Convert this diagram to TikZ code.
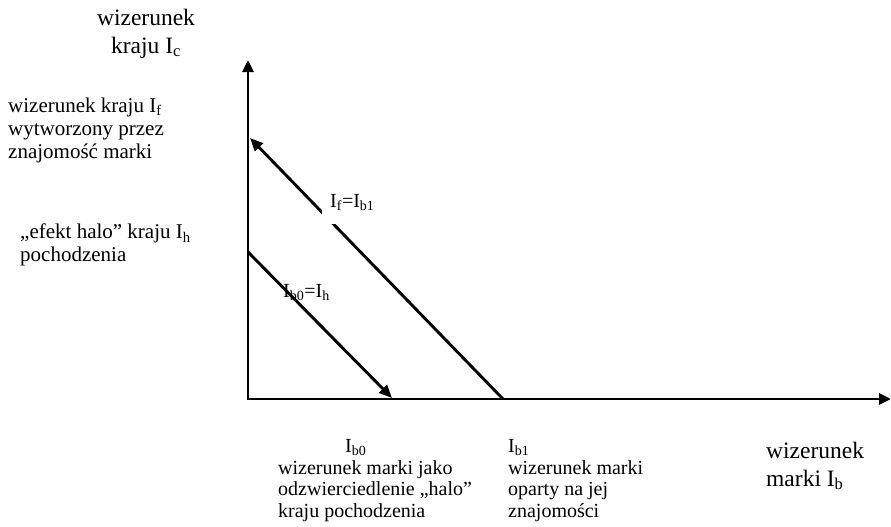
\documentclass[tikz,border=0pt]{standalone}
\usepackage{fontspec}
\setmainfont{Liberation Serif}
\usetikzlibrary{arrows.meta}

\begin{document}
\begin{tikzpicture}[
    x=1pt, y=-1pt,
    axis/.style={line width=2.9pt, {Triangle[length=12pt,width=11pt]}-{Triangle[length=12pt,width=11pt]}},
    shiftline/.style={line width=2.9pt, -{Triangle[length=13pt,width=11pt]}},
    txt/.style={inner sep=0pt, align=left, font=\fontsize{20}{21.7}\selectfont},
    sidetxt/.style={txt, font=\fontsize{21}{22.8}\selectfont},
    axtxt/.style={inner sep=0pt, font=\fontsize{23.5}{27.5}\selectfont}
]
\useasboundingbox (0,0) rectangle (891,527);

% axes
\coordinate (origin) at (248,399);
\coordinate (yend)   at (248,60);
\coordinate (xend)   at (891,399);
\draw [axis] (yend) -- (origin) -- (xend);

% points on the axes
\coordinate (If)  at (250,138);
\coordinate (Ih)  at (248,252);
\coordinate (Ib0) at (392,398);
\coordinate (Ib1) at (503,399);

\draw [shiftline] (Ib1) -- (If);
\draw [shiftline] (Ih) -- (Ib0);

% labels of the lines
\node (lf) [txt, anchor=base west, fill=white, inner xsep=8pt, inner ysep=3pt, text depth=14pt]
    at (322,207) {I\textsubscript{f}=I\textsubscript{b1}};
\node (lh) [txt, anchor=base west] at (283,297) {I\textsubscript{b0}=I\textsubscript{h}};

% axis titles
\node (ytitle) [axtxt, align=center, anchor=north] at (146,9)
    {wizerunek\\kraju I\textsubscript{c}};
\node (xtitle) [axtxt, align=left, anchor=north west] at (766,442)
    {wizerunek\\marki I\textsubscript{b}};

% left side
\node (fdesc) [sidetxt, anchor=north west] at (8,98)
    {wizerunek kraju I\textsubscript{f}\\wytworzony przez\\znajomość marki};
\node (hdesc) [sidetxt, anchor=north west] at (20,224)
    {„efekt halo” kraju I\textsubscript{h}\\pochodzenia};

% bottom
\node (b0desc) [txt, anchor=north west] at (278,439)
    {\hspace*{67pt}I\textsubscript{b0}\\wizerunek marki jako\\odzwierciedlenie „halo”\\kraju pochodzenia};
\node (b1desc) [txt, anchor=north west] at (508,439)
    {I\textsubscript{b1}\\wizerunek marki\\oparty na jej\\znajomości};

\end{tikzpicture}
\end{document}
